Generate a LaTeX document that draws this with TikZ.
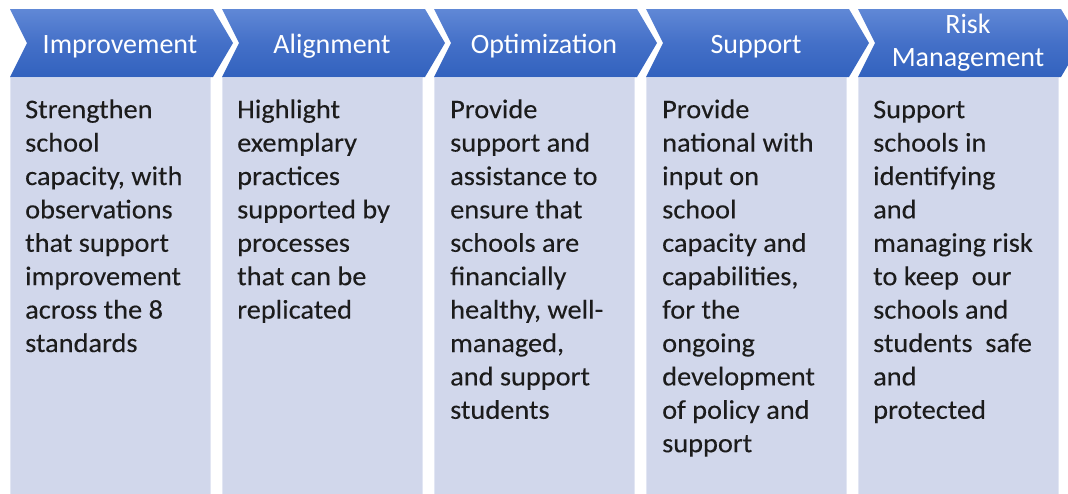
\documentclass[tikz,border=0pt]{standalone}
\usepackage{fontspec}
\setmainfont{Carlito}
\newfontfamily\bodyfont[FakeStretch=1.05,FakeBold=0.15]{Carlito}
\definecolor{chtop}{HTML}{6088D6}
\definecolor{chmid}{HTML}{4470C8}
\definecolor{chbot}{HTML}{3262BE}
\definecolor{boxfill}{HTML}{D1D7EB}
\definecolor{boxline}{HTML}{E2E6F3}
\definecolor{bodytext}{HTML}{1C1C1C}
\newcommand\mystrut{\rule{0pt}{25pt}}
\tikzset{
  chev/.style={top color=chtop, bottom color=chbot, middle color=chmid},
  headtxt/.style={anchor=north, inner sep=0pt, text=white, font=\fontsize{28}{33}\selectfont, align=center},
  bodytxt/.style={anchor=north west, inner sep=0pt, text=bodytext, font=\bodyfont\fontsize{27}{33.4}\selectfont, align=left},
  panel/.style={fill=boxfill, draw=boxline, line width=0.8pt}
}
\begin{document}
\begin{tikzpicture}[x=1pt,y=-1pt]
\useasboundingbox (0,0) rectangle (1068,493);
\begin{scope}
\clip (0,0) rectangle (1068,493);
% panels
\foreach \L in {10,222,434,646,858}{
  \path[panel] (\L,77) rectangle (\L+200,500);
}
% chevrons
\foreach \L in {10,222,434,646,858}{
  \shade[chev] (\L,9) -- (\L+203,9) -- (\L+223,43) -- (\L+203,77) -- (\L,77) -- (\L+17,43) -- cycle;
}
\end{scope}
% headers
\node[headtxt] (h1) at (120,28) {\mystrut Improvement};
\node[headtxt] (h2) at (332,28) {\mystrut Alignment};
\node[headtxt] (h3) at (544,28) {\mystrut Optimization};
\node[headtxt] (h4) at (756,28) {\mystrut Support};
\node[headtxt] (h5) at (968,8) {\mystrut Risk\\Management};
% bodies
\node[bodytxt] (t1) at (25,93) {\mystrut Strengthen\\school\\capacity, with\\observations\\that support\\improvement\\across the 8\\standards};
\node[bodytxt] (t2) at (237,93) {\mystrut Highlight\\exemplary\\practices\\supported by\\processes\\that can be\\replicated};
\node[bodytxt] (t3) at (450,93) {\mystrut Provide\\support and\\assistance to\\ensure that\\schools are\\financially\\healthy, well-\\managed,\\and support\\students};
\node[bodytxt] (t4) at (662,93) {\mystrut Provide\\national with\\input on\\school\\capacity and\\capabilities,\\for the\\ongoing\\development\\of policy and\\support};
\node[bodytxt] (t5) at (873,93) {\mystrut Support\\schools in\\identifying\\and\\managing risk\\to keep\ \ our\\schools and\\students\ \ safe\\and\\protected};
\end{tikzpicture}
\end{document}
